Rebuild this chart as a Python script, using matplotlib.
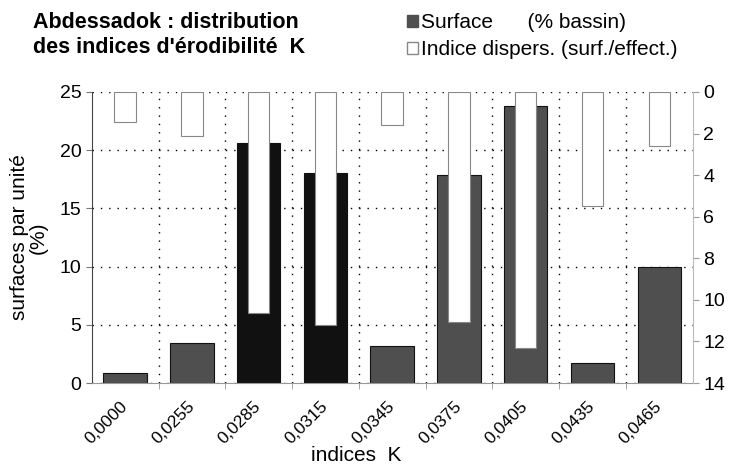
import numpy as np
import matplotlib.pyplot as plt
import matplotlib.transforms as mtransforms
from matplotlib.patches import Patch

plt.rcParams['font.family'] = ['Liberation Sans', 'DejaVu Sans']

categories = ['0,0000', '0,0255', '0,0285', '0,0315', '0,0345',
              '0,0375', '0,0405', '0,0435', '0,0465']
surface = [0.9, 3.4, 20.6, 18.0, 3.2, 17.9, 23.8, 1.7, 10.0]
dispersion = [1.45, 2.1, 10.65, 11.2, 1.6, 11.05, 12.3, 5.5, 2.6]

# farbe der balken (zwei sind im original schwarz)
farben = ['#4f4f4f', '#4f4f4f', '#111111', '#111111', '#4f4f4f',
          '#4f4f4f', '#4f4f4f', '#4f4f4f', '#4f4f4f']

x = np.arange(len(categories))

fig = plt.figure(figsize=(7.31, 4.66), dpi=100)
ax = fig.add_axes([0.1255, 0.178, 0.822, 0.6246])

ax.bar(x, surface, width=0.65, color=farben, edgecolor='#111111', linewidth=0.8, zorder=2)
ax.set_ylim(0, 25)
ax.set_xlim(-0.5, len(categories) - 0.5)
ax.set_yticks([0, 5, 10, 15, 20, 25])
ax.set_xticks(x)
ax.set_xticklabels(categories, rotation=45, ha='right', va='center',
                   rotation_mode='anchor', fontsize=12.5)
# labels etwas nach links schieben
versatz = mtransforms.ScaledTranslation(-11 / 72, 0, fig.dpi_scale_trans)
for lab in ax.get_xticklabels():
    lab.set_transform(lab.get_transform() + versatz)
ax.set_xticks(np.arange(0.5, len(categories) - 1, 1), minor=True)
ax.tick_params(axis='x', which='major', length=0, pad=15)
ax.tick_params(axis='x', which='minor', length=4, color='#999999')
ax.tick_params(axis='y', labelsize=14, length=4, color='#777777')
ax.grid(True, axis='y', which='major', linestyle=(0, (1, 5)), color='black', linewidth=1.0)
ax.grid(True, axis='x', which='minor', linestyle=(0, (1, 5)), color='black', linewidth=1.0)
ax.set_axisbelow(True)
for s in ['top', 'right']:
    ax.spines[s].set_visible(False)
ax.spines['left'].set_color('#444444')
ax.spines['bottom'].set_color('#999999')
ax.set_ylabel("surfaces par unité\n(%)", fontsize=15, linespacing=0.95, va='center')
ax.yaxis.set_label_coords(-0.105, 0.5)
ax.set_xlabel("indices  K", fontsize=15, va='center')
ax.xaxis.set_label_coords(0.44, -0.25)

ax2 = ax.twinx()
ax2.bar(x, dispersion, width=0.32, color='white', edgecolor='#888888', linewidth=0.8, zorder=3)
ax2.set_ylim(14, 0)
ax2.set_yticks(np.arange(0, 15, 2))
ax2.tick_params(axis='y', labelsize=14, length=4, color='#999999')
for s in ['top', 'left', 'bottom']:
    ax2.spines[s].set_visible(False)
ax2.spines['right'].set_color('#bbbbbb')

fig.text(0.045, 0.975, "Abdessadok : distribution\ndes indices d'érodibilité  K",
         fontsize=15.5, fontweight='bold', va='top', ha='left', linespacing=1.25)

handles = [Patch(facecolor='#4f4f4f', edgecolor='#4f4f4f'),
           Patch(facecolor='white', edgecolor='#888888')]
fig.legend(handles, ['Surface      (% bassin)', 'Indice dispers. (surf./effect.)'],
           loc='upper left', bbox_to_anchor=(0.531, 1.012), frameon=False,
           fontsize=15, handlelength=0.55, handleheight=0.55, handletextpad=0.15,
           labelspacing=0.4)

fig.savefig('out.png', dpi=100)
